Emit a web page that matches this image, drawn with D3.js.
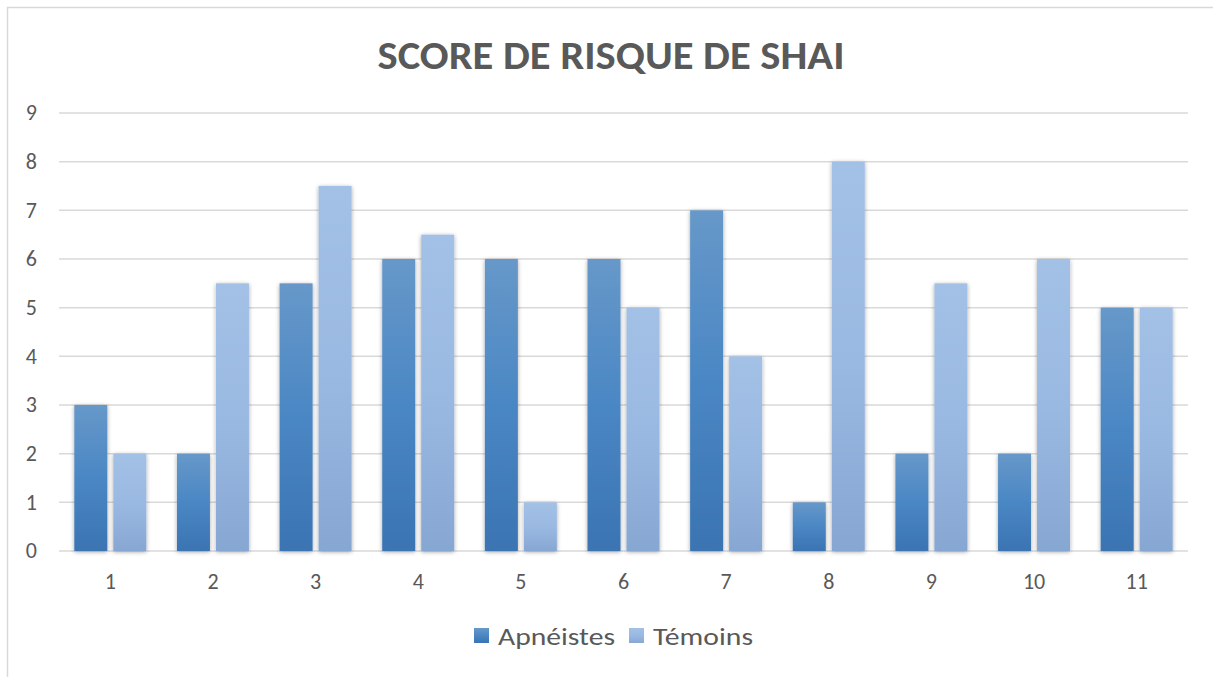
<!DOCTYPE html>
<html><head><meta charset="utf-8">
<script src="https://cdn.jsdelivr.net/npm/d3@7"></script>
<style>body{margin:0;background:#fff}svg{display:block}</style>
</head><body><svg id="c" width="1213" height="677"></svg>
<script>
const categories = ["1","2","3","4","5","6","7","8","9","10","11"];
const seriesNames = ["Apnéistes","Témoins"];
const apneistes = [3,2,5.5,6,6,6,7,1,2,2,5];
const temoins = [2,5.5,7.5,6.5,1,5,4,8,5.5,6,5];
const yTicks = [0,1,2,3,4,5,6,7,8,9];
const title = "SCORE DE RISQUE DE SHAI";

const svg = d3.select("#c");
const W = 1213, H = 677;
const m = {left:59, right:1188, top:113, bottom:551};
const font = "Calibri, Carlito, 'Liberation Sans Narrow', 'Open Sans', sans-serif";

const defs = svg.append("defs");
const g1 = defs.append("linearGradient").attr("id","gA").attr("x1",0).attr("y1",0).attr("x2",0).attr("y2",1);
g1.append("stop").attr("offset","0%").attr("stop-color","#6798c9");
g1.append("stop").attr("offset","50%").attr("stop-color","#4a87c4");
g1.append("stop").attr("offset","100%").attr("stop-color","#3b74b2");
const g2 = defs.append("linearGradient").attr("id","gT").attr("x1",0).attr("y1",0).attr("x2",0).attr("y2",1);
g2.append("stop").attr("offset","0%").attr("stop-color","#a3c1e6");
g2.append("stop").attr("offset","50%").attr("stop-color","#9ab9e2");
g2.append("stop").attr("offset","100%").attr("stop-color","#87a7d3");
const f = defs.append("filter").attr("id","sh").attr("x","-30%").attr("y","-10%").attr("width","160%").attr("height","130%");
f.append("feDropShadow").attr("dx",0).attr("dy",1).attr("stdDeviation",2.2).attr("flood-color","#000").attr("flood-opacity",0.35);

// chart border
svg.append("rect").attr("x",7.5).attr("y",7.5).attr("width",W+20).attr("height",H+20)
  .attr("fill","#fff").attr("stroke","#d9d9d9").attr("stroke-width",1.5);

const x = d3.scaleBand().domain(categories).range([m.left,m.right]).paddingInner(0).paddingOuter(0);
const y = d3.scaleLinear().domain([0,9]).range([m.bottom,m.top]);

// gridlines
svg.append("g").selectAll("line").data(yTicks).join("line")
  .attr("x1",m.left).attr("x2",m.right).attr("y1",d=>y(d)).attr("y2",d=>y(d))
  .attr("stroke","#d9d9d9").attr("stroke-width",1.5);

// y labels
svg.append("g").selectAll("text").data(yTicks).join("text")
  .attr("x",37).attr("y",d=>y(d)).attr("dy","0.34em").attr("text-anchor","end")
  .attr("font-family",font).attr("font-size",22).attr("fill","#595959").text(d=>d);

// x labels
svg.append("g").selectAll("text").data(categories).join("text")
  .attr("x",d=>x(d)+x.bandwidth()/2).attr("y",589).attr("text-anchor","middle")
  .attr("font-family",font).attr("font-size",22).attr("fill","#595959").text(d=>d);

// bars
const bw = 33, gap = 6;
const inner = d3.scaleBand().domain(seriesNames).range([0,2*bw+gap]).paddingInner(gap/(bw+gap));
const data = [apneistes, temoins];
const fills = ["url(#gA)","url(#gT)"];
seriesNames.forEach((s,si)=>{
  svg.append("g").attr("filter","url(#sh)").selectAll("rect").data(categories).join("rect")
    .attr("x",d=>x(d)+(x.bandwidth()-(2*bw+gap))/2+inner(s))
    .attr("width",inner.bandwidth())
    .attr("y",(d,i)=>y(data[si][i]))
    .attr("height",(d,i)=>y(0)-y(data[si][i]))
    .attr("fill",fills[si]);
});

// title
const t = svg.append("text").attr("x",611).attr("y",69).attr("text-anchor","middle")
  .attr("font-family",font).attr("font-weight","bold").attr("font-size",40).attr("fill","#595959").text(title);
const tl = t.node().getComputedTextLength();
if (Math.abs(tl-467)>4) t.attr("textLength",467).attr("lengthAdjust","spacingAndGlyphs");

// legend
const leg = svg.append("g");
const legX = [474, 629];
const legW = [117, 100];
seriesNames.forEach((s,i)=>{
  leg.append("rect").attr("x",legX[i]).attr("y",628).attr("width",15).attr("height",15).attr("fill",fills[i]);
  const lt = leg.append("text").attr("x",legX[i]+24).attr("y",645).attr("font-family",font).attr("font-size",24)
    .attr("fill","#595959").text(s);
  const l = lt.node().getComputedTextLength();
  if (Math.abs(l-legW[i])>3) lt.attr("textLength",legW[i]).attr("lengthAdjust","spacingAndGlyphs");
});
</script></body></html>
